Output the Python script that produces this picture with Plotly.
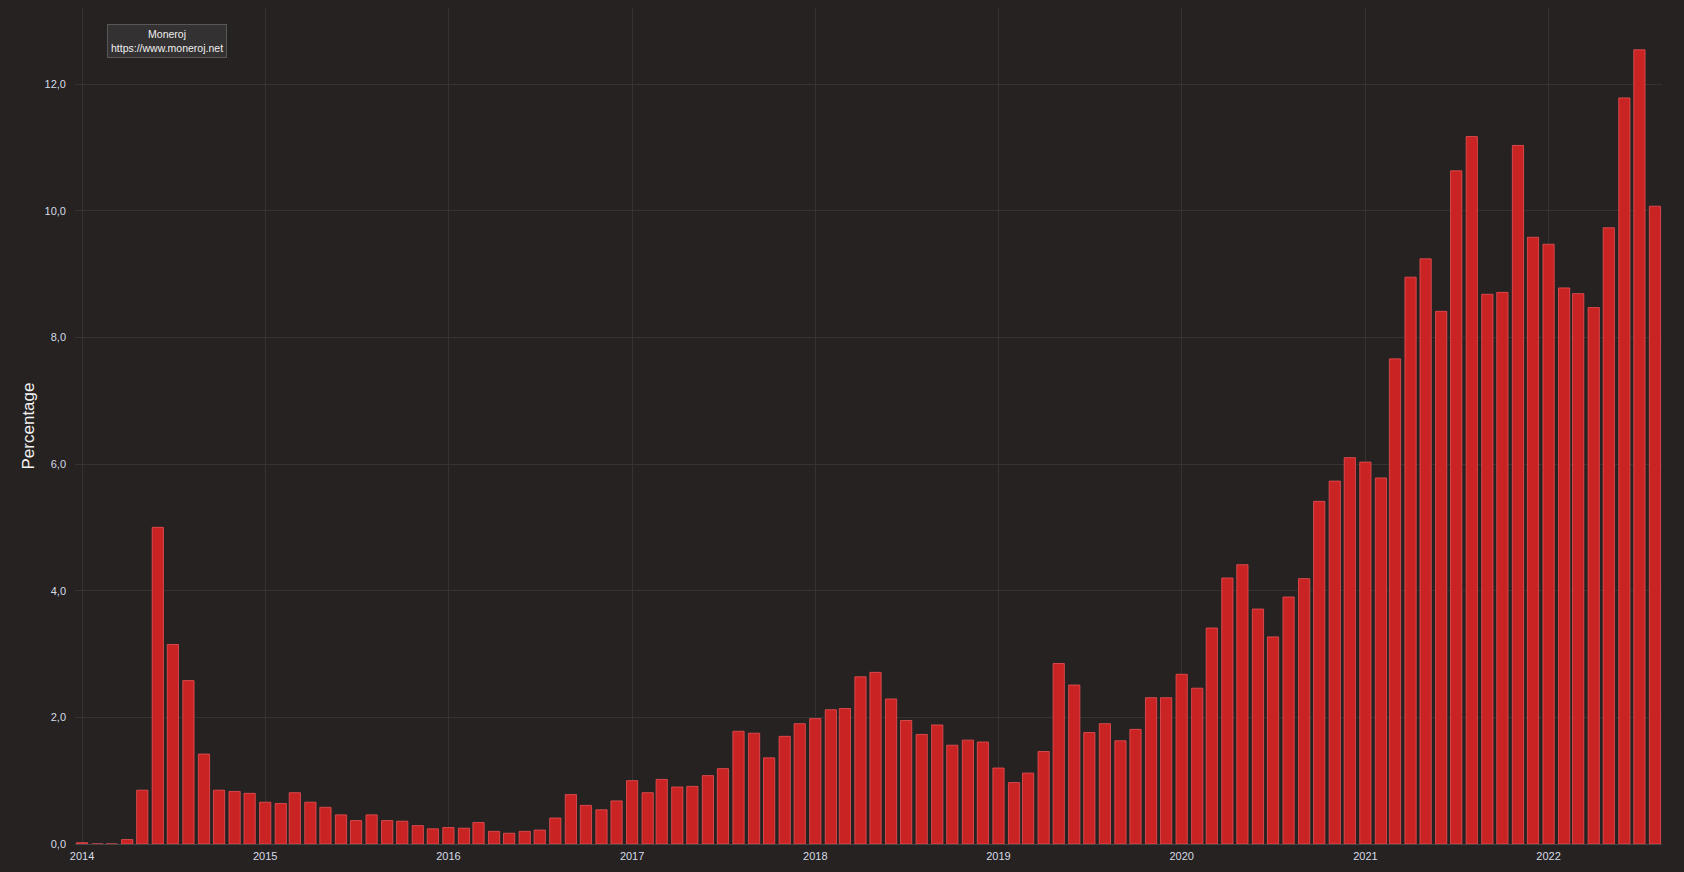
import plotly.graph_objects as go
import pandas as pd

months = pd.date_range("2014-01-01", "2022-08-01", freq="MS").strftime("%Y-%m-%d").tolist()

percentage = [
    0.02, 0.0, 0.0, 0.07, 0.85, 5.00, 3.15, 2.58, 1.42, 0.85, 0.83, 0.80,
    0.66, 0.64, 0.81, 0.66, 0.58, 0.46, 0.37, 0.46, 0.37, 0.36, 0.29, 0.24,
    0.26, 0.25, 0.34, 0.20, 0.17, 0.20, 0.22, 0.41, 0.78, 0.61, 0.54, 0.68,
    1.00, 0.81, 1.02, 0.90, 0.91, 1.08, 1.19, 1.78, 1.75, 1.36, 1.70, 1.90,
    1.98, 2.12, 2.14, 2.64, 2.71, 2.29, 1.95, 1.73, 1.88, 1.56, 1.64, 1.61,
    1.20, 0.97, 1.12, 1.46, 2.85, 2.51, 1.76, 1.90, 1.63, 1.81, 2.31, 2.31,
    2.68, 2.46, 3.41, 4.20, 4.41, 3.71, 3.27, 3.90, 4.19, 5.41, 5.73, 6.10,
    6.03, 5.78, 7.66, 8.95, 9.24, 8.41, 10.63, 11.17, 8.68, 8.71, 11.03, 9.58,
    9.47, 8.78, 8.69, 8.47, 9.73, 11.78, 12.54, 10.07,
]

year_ticks = [f"{y}-01-01" for y in range(2014, 2023)]
year_labels = [str(y) for y in range(2014, 2023)]
y_ticks = [0, 2, 4, 6, 8, 10, 12]

bg = "#252221"
grid = "#363231"
tick_color = "#d6dbe6"

fig = go.Figure()
fig.add_trace(go.Bar(
    x=months,
    y=percentage,
    marker=dict(color="#c92324", line=dict(color="rgba(235,80,85,0.8)", width=1)),
    name="Percentage",
))

fig.update_layout(
    width=1684, height=872,
    paper_bgcolor=bg, plot_bgcolor=bg,
    margin=dict(l=75, r=22, t=8, b=28),
    bargap=0.2,
    showlegend=False,
    separators=", ",
    font=dict(family="Arial, Liberation Sans, sans-serif", color=tick_color, size=11),
    xaxis=dict(
        type="date",
        tickvals=year_ticks,
        ticktext=year_labels,
        showgrid=True, gridcolor=grid, gridwidth=1,
        zeroline=False, showline=False,
        tickfont=dict(size=11, color=tick_color),
        ticks="", ticklabelstandoff=4,
    ),
    yaxis=dict(
        range=[0, 13.2],
        tickvals=y_ticks,
        tickformat=".1f",
        showgrid=True, gridcolor=grid, gridwidth=1,
        zeroline=True, zerolinecolor="#4a4545", zerolinewidth=1,
        showline=False,
        tickfont=dict(size=11, color=tick_color),
        ticks="", ticklabelstandoff=8,
        title=dict(text="Percentage", font=dict(size=17, color="#f2f2f2"), standoff=5),
    ),
    annotations=[dict(
        text="Moneroj<br>https://www.moneroj.net",
        xref="paper", yref="paper",
        x=(107 - 75) / (1662 - 75), y=1 - (24 - 8) / (844 - 8),
        xanchor="left", yanchor="top",
        showarrow=False,
        font=dict(size=10.5, color="#f0f0f0"),
        bgcolor="#333131", bordercolor="#5a5757", borderwidth=1, borderpad=3,
        align="center",
    )],
)

fig.write_html(
    "out.html",
    config={"displayModeBar": False},
    post_script="document.body.style.margin='0';document.body.style.overflow='hidden';document.body.style.background='#252221';",
)
